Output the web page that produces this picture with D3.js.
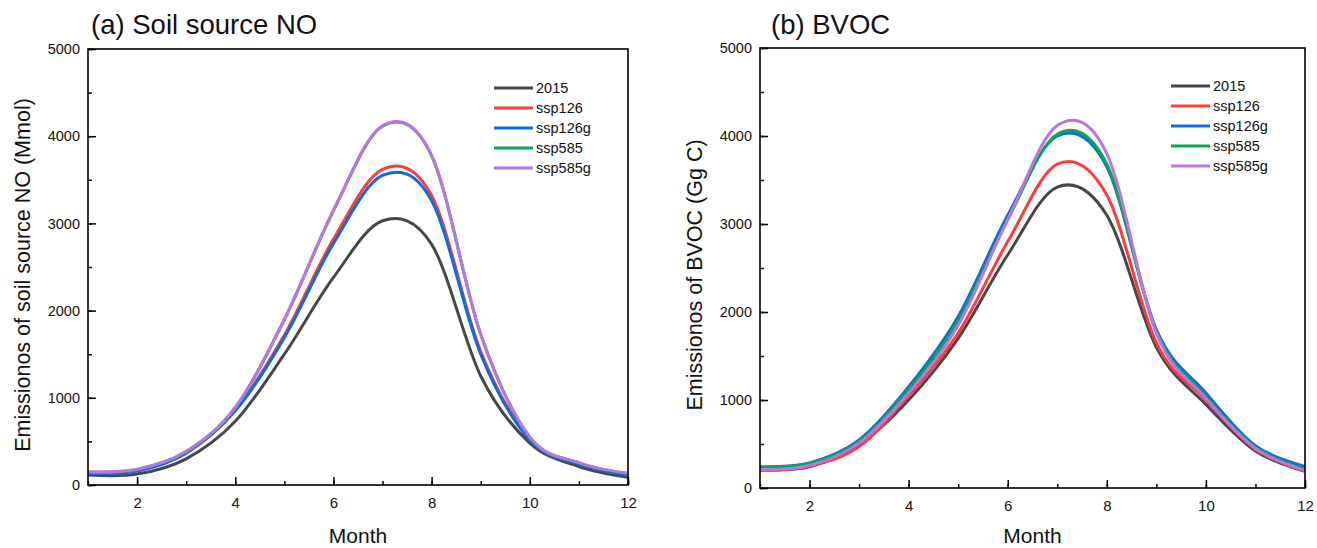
<!DOCTYPE html>
<html>
<head>
<meta charset="utf-8">
<script src="https://cdn.jsdelivr.net/npm/d3@7"></script>
<style>
  body { margin: 0; background: #fff; }
  svg  { display: block; font-family: "Liberation Sans", Arial, sans-serif; }
</style>
</head>
<body>
<svg id="chart" width="1317" height="548"></svg>
<script>
const months      = [1, 2, 3, 4, 5, 6, 7, 8, 9, 10, 11, 12];
const seriesNames = ['2015', 'ssp126', 'ssp126g', 'ssp585', 'ssp585g'];
const xTicks      = [2, 4, 6, 8, 10, 12];
const yTicks      = [0, 1000, 2000, 3000, 4000, 5000];

// (a) soil source NO, Mmol
const soil2015    = [115, 125, 300, 730, 1500, 2380, 3030, 2760, 1250, 480, 212, 88];
const soilSsp126  = [140, 165, 370, 860, 1720, 2820, 3620, 3320, 1530, 530, 245, 118];
const soilSsp126g = [135, 160, 365, 850, 1690, 2770, 3550, 3260, 1500, 515, 240, 112];
const soilSsp585  = [150, 178, 383, 888, 1895, 3145, 4115, 3775, 1725, 548, 254, 132];
const soilSsp585g = [150, 180, 385, 890, 1900, 3150, 4120, 3780, 1730, 550, 256, 134];

// (b) BVOC, Gg C
const bvoc2015    = [205, 240, 490, 1000, 1700, 2650, 3420, 3100, 1600, 950, 420, 190];
const bvocSsp126  = [200, 250, 470, 1050, 1760, 2800, 3680, 3330, 1650, 1000, 440, 195];
const bvocSsp126g = [240, 285, 545, 1150, 1950, 3100, 4000, 3650, 1800, 1080, 480, 245];
const bvocSsp585  = [240, 280, 530, 1120, 1900, 3050, 4020, 3680, 1780, 1040, 460, 215];
const bvocSsp585g = [210, 255, 510, 1080, 1850, 3050, 4120, 3800, 1760, 1020, 450, 200];

const colors = ['#474747', '#ff3b3b', '#0a6ee0', '#0aa653', '#bd74e3'];

const svg  = d3.select('#chart');
const font = '"Liberation Sans", Arial, sans-serif';

function drawPanel (opt) {
  const {box, title, titleX, yLabel, series, legendX, legendY} = opt;

  const x = d3.scaleLinear().domain([1, 12]).range([box.x0, box.x1]);
  const y = d3.scaleLinear().domain([0, 5000]).range([box.y0, box.y1]);
  const g = svg.append('g');

  const line = d3.line()
    .x((d, i) => x(months[i]))
    .y(d => y(d))
    .curve(d3.curveCatmullRom.alpha(0));

  g.append('g').selectAll('path')
    .data(series)
    .join('path')
      .attr('d', d => line(d))
      .attr('fill', 'none')
      .attr('stroke', (d, i) => colors[i])
      .attr('stroke-width', 3);

  // minor ticks
  g.append('g')
    .attr('transform', `translate(0,${box.y0})`)
    .call(d3.axisBottom(x).tickValues(d3.range(1, 12.01, 1)).tickSize(-4).tickFormat(''))
    .call(a => a.select('.domain').remove());
  g.append('g')
    .attr('transform', `translate(${box.x0},0)`)
    .call(d3.axisLeft(y).tickValues(d3.range(0, 5001, 500)).tickSize(-4).tickFormat(''))
    .call(a => a.select('.domain').remove());

  // major ticks + labels
  g.append('g')
    .attr('transform', `translate(0,${box.y0})`)
    .call(d3.axisBottom(x).tickValues(xTicks).tickSize(-8).tickPadding(12).tickFormat(d3.format('d')))
    .call(a => a.select('.domain').remove())
    .call(a => a.selectAll('text').attr('font-size', 15).attr('fill', '#111').attr('font-family', font));
  g.append('g')
    .attr('transform', `translate(${box.x0},0)`)
    .call(d3.axisLeft(y).tickValues(yTicks).tickSize(-8).tickPadding(8).tickFormat(d3.format('d')))
    .call(a => a.select('.domain').remove())
    .call(a => a.selectAll('text').attr('font-size', 14.5).attr('fill', '#111').attr('font-family', font));
  g.selectAll('.tick line').attr('stroke', '#000').attr('stroke-width', 1.5);

  g.append('rect')
    .attr('x', box.x0).attr('y', box.y1)
    .attr('width', box.x1 - box.x0).attr('height', box.y0 - box.y1)
    .attr('fill', 'none').attr('stroke', '#000').attr('stroke-width', 1.6);

  g.append('text')
    .attr('x', titleX).attr('y', 34)
    .attr('font-size', 27.5).attr('fill', '#111')
    .text(title);

  g.append('text')
    .attr('transform', `translate(${box.x0 - 58},275) rotate(-90)`)
    .attr('text-anchor', 'middle')
    .attr('font-size', 21.5).attr('fill', '#111')
    .text(yLabel);

  g.append('text')
    .attr('x', (box.x0 + box.x1) / 2).attr('y', 543)
    .attr('text-anchor', 'middle')
    .attr('font-size', 21).attr('fill', '#111')
    .text('Month');

  const leg = g.append('g').selectAll('g')
    .data(seriesNames)
    .join('g')
      .attr('transform', (d, i) => `translate(${legendX},${legendY + i * 20})`);
  leg.append('line')
    .attr('x1', 0).attr('x2', 39)
    .attr('stroke', (d, i) => colors[i])
    .attr('stroke-width', 3);
  leg.append('text')
    .attr('x', 42).attr('dy', '0.36em')
    .attr('font-size', 14.5).attr('fill', '#111')
    .text(d => d);
}

drawPanel({
  box: {x0: 88, x1: 628, y0: 485, y1: 49},
  title: '(a) Soil source NO', titleX: 91,
  yLabel: 'Emissionos of soil source NO (Mmol)',
  series: [soil2015, soilSsp126, soilSsp126g, soilSsp585, soilSsp585g],
  legendX: 494, legendY: 88
});

drawPanel({
  box: {x0: 760, x1: 1305, y0: 488, y1: 48},
  title: '(b) BVOC', titleX: 771,
  yLabel: 'Emissionos of BVOC (Gg C)',
  series: [bvoc2015, bvocSsp126, bvocSsp126g, bvocSsp585, bvocSsp585g],
  legendX: 1171, legendY: 86
});
</script>
</body>
</html>
